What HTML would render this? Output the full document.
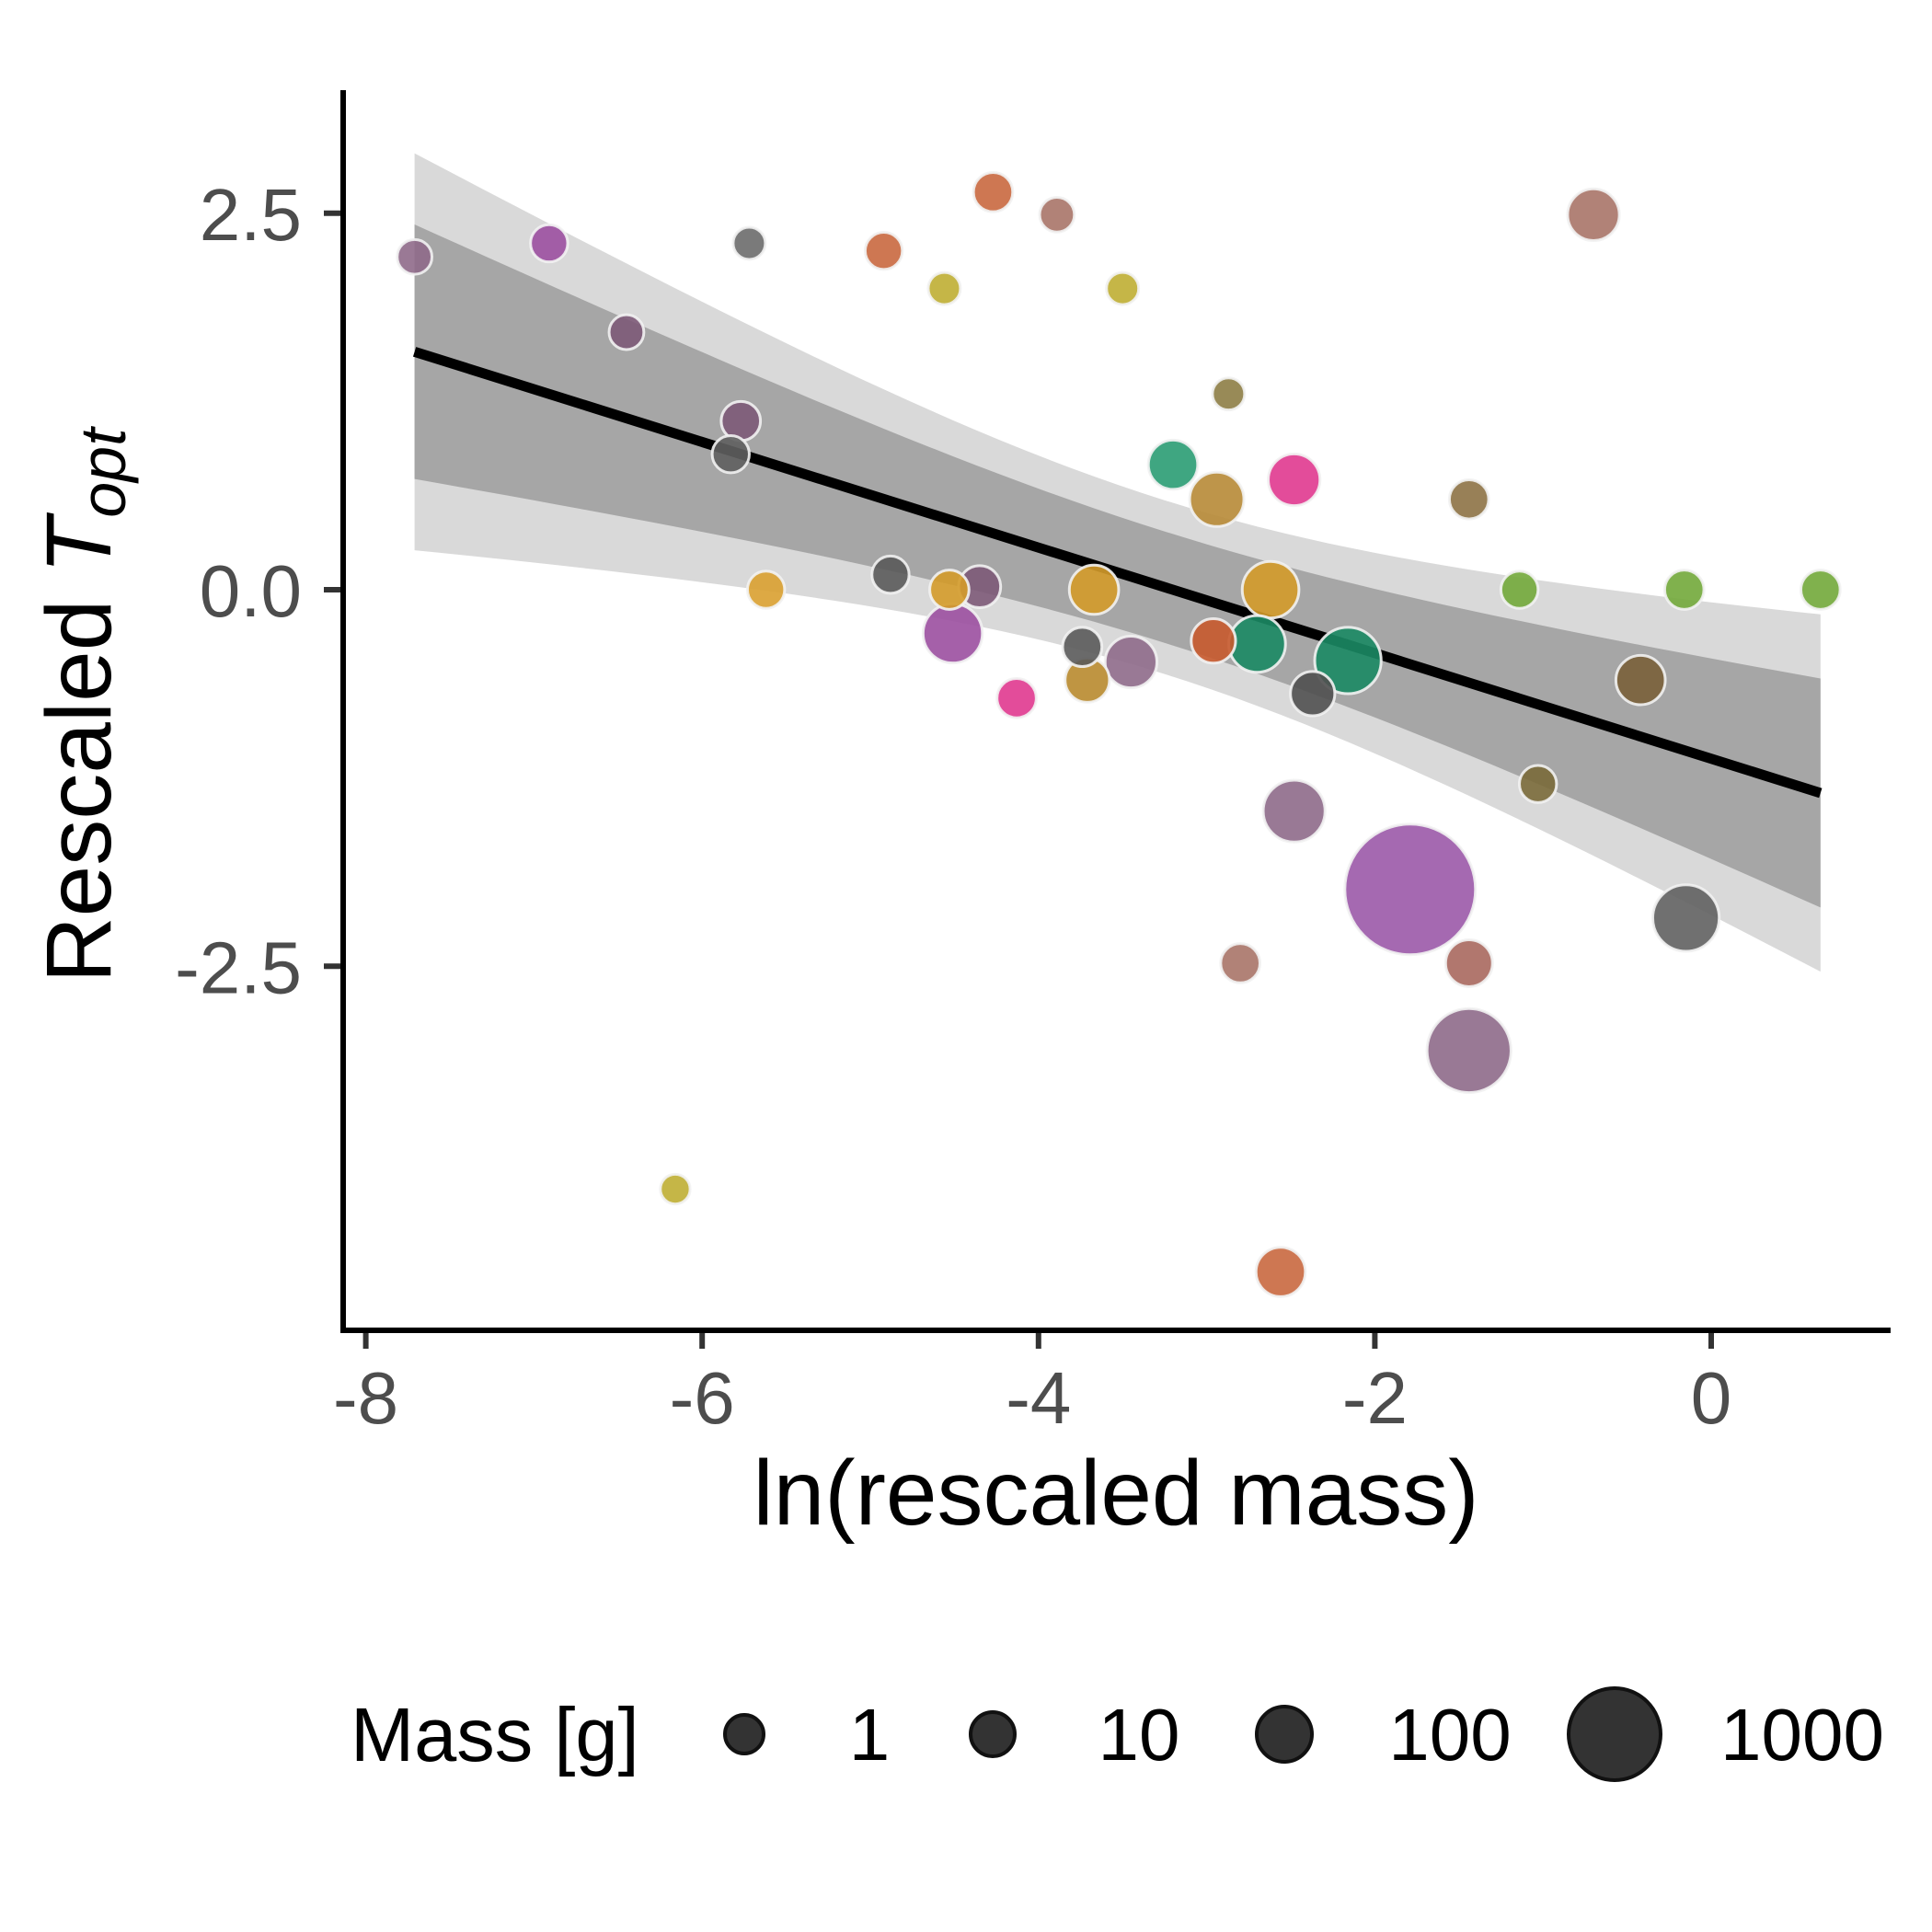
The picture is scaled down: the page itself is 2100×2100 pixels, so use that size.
<!DOCTYPE html>
<html><head><meta charset="utf-8"><style>
html,body{margin:0;padding:0;background:#fff;}
svg{display:block;font-family:"Liberation Sans",Arial,sans-serif;}
</style></head><body>
<svg id="chart" width="2100" height="2100" viewBox="0 0 2100 2100">
<g id="bands"></g>
<g id="fit"></g>
<g id="points"></g>
<g id="axes"></g>
<g id="legend"></g>
</svg>
<script>
const xVals=[-7.71,-6.91,-6.45,-5.72,-5.77,-5.83,-5.62,-6.16,-4.92,-4.56,-4.27,-3.89,-3.5,-4.88,-4.53,-4.35,-4.51,-4.13,-3.67,-3.74,-3.71,-3.45,-3.2,-2.87,-2.94,-2.48,-2.96,-2.62,-2.7,-2.37,-2.16,-2.48,-2.8,-1.79,-1.44,-1.44,-2.56,-1.44,-0.7,-1.14,-1.03,-0.42,-0.16,0.65,-0.15];
const yVals=[2.21,2.3,1.71,2.3,1.12,0.9,0.0,-3.98,2.25,2.0,2.64,2.49,2.0,0.1,0.0,0.02,-0.29,-0.72,0.0,-0.38,-0.6,-0.48,0.83,1.3,0.6,0.73,-0.34,0.0,-0.36,-0.69,-0.47,-1.47,-2.48,-1.99,-2.48,-3.06,-4.53,0.6,2.49,0.0,-1.29,-0.6,0.0,0.0,-2.18];
const massVals=[0.09,0.25,0.09,0.025,0.6,0.25,0.25,0.006,0.25,0.025,0.6,0.09,0.025,0.25,0.6,1.9,115,0.6,20,0.6,5,33,20,0.025,56,33,5,93,93,5,180,135,0.6,10000,12,540,20,0.6,33,0.25,0.25,20,0.6,0.6,180];
const colorVals=["#8f6a8a","#9b4fa0","#7d5a78","#6b6b6b","#7d5a78","#5f5f5f","#d9a030","#bfae33","#c9683f","#bfae33","#c9683f","#a87468","#bfae33","#5a5a5a","#d49b2a","#7d5a78","#9b4fa0","#e0388f","#d49b2a","#5a5a5a","#b8892e","#8e6a89","#2a9c73","#8d7d45","#b78a36","#e0388f","#c85a2e","#d49b2a","#1b8a64","#505050","#1b8a64","#8e6a89","#a87468","#9b59a8","#a8685e","#8e6a89","#c9683f","#8d7245","#a87468","#72a83a","#7a6a3a","#7a603a","#72a83a","#72a83a","#606060"];
const xTicks=[-8,-6,-4,-2,0];
const xTickLabels=["-8","-6","-4","-2","0"];
const yTicks=[2.5,0,-2.5];
const yTickLabels=["2.5","0.0","-2.5"];
const legendMass=[1,10,100,1000];
const legendLabels=["1","10","100","1000"];
const fitIntercept=0.017, fitSlope=-0.3505, fitXMean=-3.25, fitK=0.1703, fitA=4.72, outerFactor=1.56;
const fitRange=[-7.71,0.65];

const NS="http://www.w3.org/2000/svg";
function X(v){return 1860+182.8*v;}
function Y(v){return 641-163.7*v;}
function R(m){const l=Math.log10(m);const t=[[-3,15],[-2,16.5],[-1,19],[0,22],[1,25],[2,31],[3,51],[4,71]];
 if(l<=t[0][0])return t[0][1];
 for(let i=0;i<t.length-1;i++){if(l<=t[i+1][0]){const f=(l-t[i][0])/(t[i+1][0]-t[i][0]);return t[i][1]+f*(t[i+1][1]-t[i][1]);}}
 return t[t.length-1][1];}
function mk(tag,attrs,parent){const e=document.createElementNS(NS,tag);for(const k in attrs)e.setAttribute(k,attrs[k]);parent.appendChild(e);return e;}

const bands=document.getElementById('bands');
function bandPath(mult){const N=60;let up=[],lo=[];
 for(let i=0;i<=N;i++){const x=fitRange[0]+(fitRange[1]-fitRange[0])*i/N;const yh=fitIntercept+fitSlope*(x-fitXMean);
  const hw=mult*fitK*Math.sqrt(fitA+(x-fitXMean)*(x-fitXMean));up.push([X(x),Y(yh+hw)]);lo.push([X(x),Y(yh-hw)]);}
 lo.reverse();return "M"+up.concat(lo).map(p=>p[0].toFixed(1)+","+p[1].toFixed(1)).join("L")+"Z";}
const ob=mk('path',{d:bandPath(outerFactor),fill:'#d9d9d9'},bands);


const ib=mk('path',{d:bandPath(1),fill:'#a6a6a6'},bands);


const fitG=document.getElementById('fit');
const ln=mk('line',{x1:X(fitRange[0]),y1:Y(fitIntercept+fitSlope*(fitRange[0]-fitXMean)),x2:X(fitRange[1]),y2:Y(fitIntercept+fitSlope*(fitRange[1]-fitXMean)),stroke:'#000','stroke-width':11},fitG);



const pts=document.getElementById('points');
const order=xVals.map((_,i)=>i).sort((a,b)=>massVals[b]-massVals[a]);
order.forEach(i=>{
 const c=mk('circle',{cx:X(xVals[i]),cy:Y(yVals[i]),r:R(massVals[i]),fill:colorVals[i],'fill-opacity':0.9,stroke:'#f2f2f2','stroke-opacity':0.9,'stroke-width':3},pts);
 
 
});

const AXY=1446;
const ax=document.getElementById('axes');
const yl=mk('line',{x1:373,y1:98,x2:373,y2:AXY+3,stroke:'#000','stroke-width':6},ax);


const xl=mk('line',{x1:370,y1:AXY,x2:2055,y2:AXY,stroke:'#000','stroke-width':6},ax);


xTicks.forEach((v,i)=>{
 const t=mk('line',{x1:X(v),y1:AXY+3,x2:X(v),y2:AXY+20,stroke:'#333','stroke-width':6},ax);
 
 
 const tx=mk('text',{x:X(v),y:1547,'text-anchor':'middle','font-size':80,fill:'#4d4d4d'},ax);
 tx.textContent=xTickLabels[i];
 
 
});
yTicks.forEach((v,i)=>{
 const t=mk('line',{x1:352,y1:Y(v),x2:370,y2:Y(v),stroke:'#333','stroke-width':6},ax);
 
 
 const tx=mk('text',{x:328,y:Y(v)+29,'text-anchor':'end','font-size':80,fill:'#4d4d4d'},ax);
 tx.textContent=yTickLabels[i];
 
 
});
const xt=mk('text',{x:1213,y:1657,'text-anchor':'middle','font-size':100,fill:'#000'},ax);
xt.textContent='ln(rescaled mass)';


const yt=mk('text',{x:0,y:0,'text-anchor':'middle','font-size':100,fill:'#000',transform:'translate(120,767) rotate(-90)'},ax);


yt.innerHTML='Rescaled <tspan font-style="italic">T</tspan><tspan font-style="italic" font-size="70" dy="16">opt</tspan>';

const lg=document.getElementById('legend');
const lt=mk('text',{x:381,y:1914,'font-size':83,fill:'#000'},lg);
lt.textContent='Mass [g]';


const lcx=[809,1079,1396,1755], llx=[945,1238,1576,1959];
legendMass.forEach((m,i)=>{
 const c=mk('circle',{cx:lcx[i],cy:1885,r:R(m)-1,fill:'#333',stroke:'#111','stroke-width':4},lg);
 
 
 const t=mk('text',{x:llx[i],y:1913,'text-anchor':'middle','font-size':80,fill:'#000'},lg);
 t.textContent=legendLabels[i];
 
 
});
</script>
</body></html>
